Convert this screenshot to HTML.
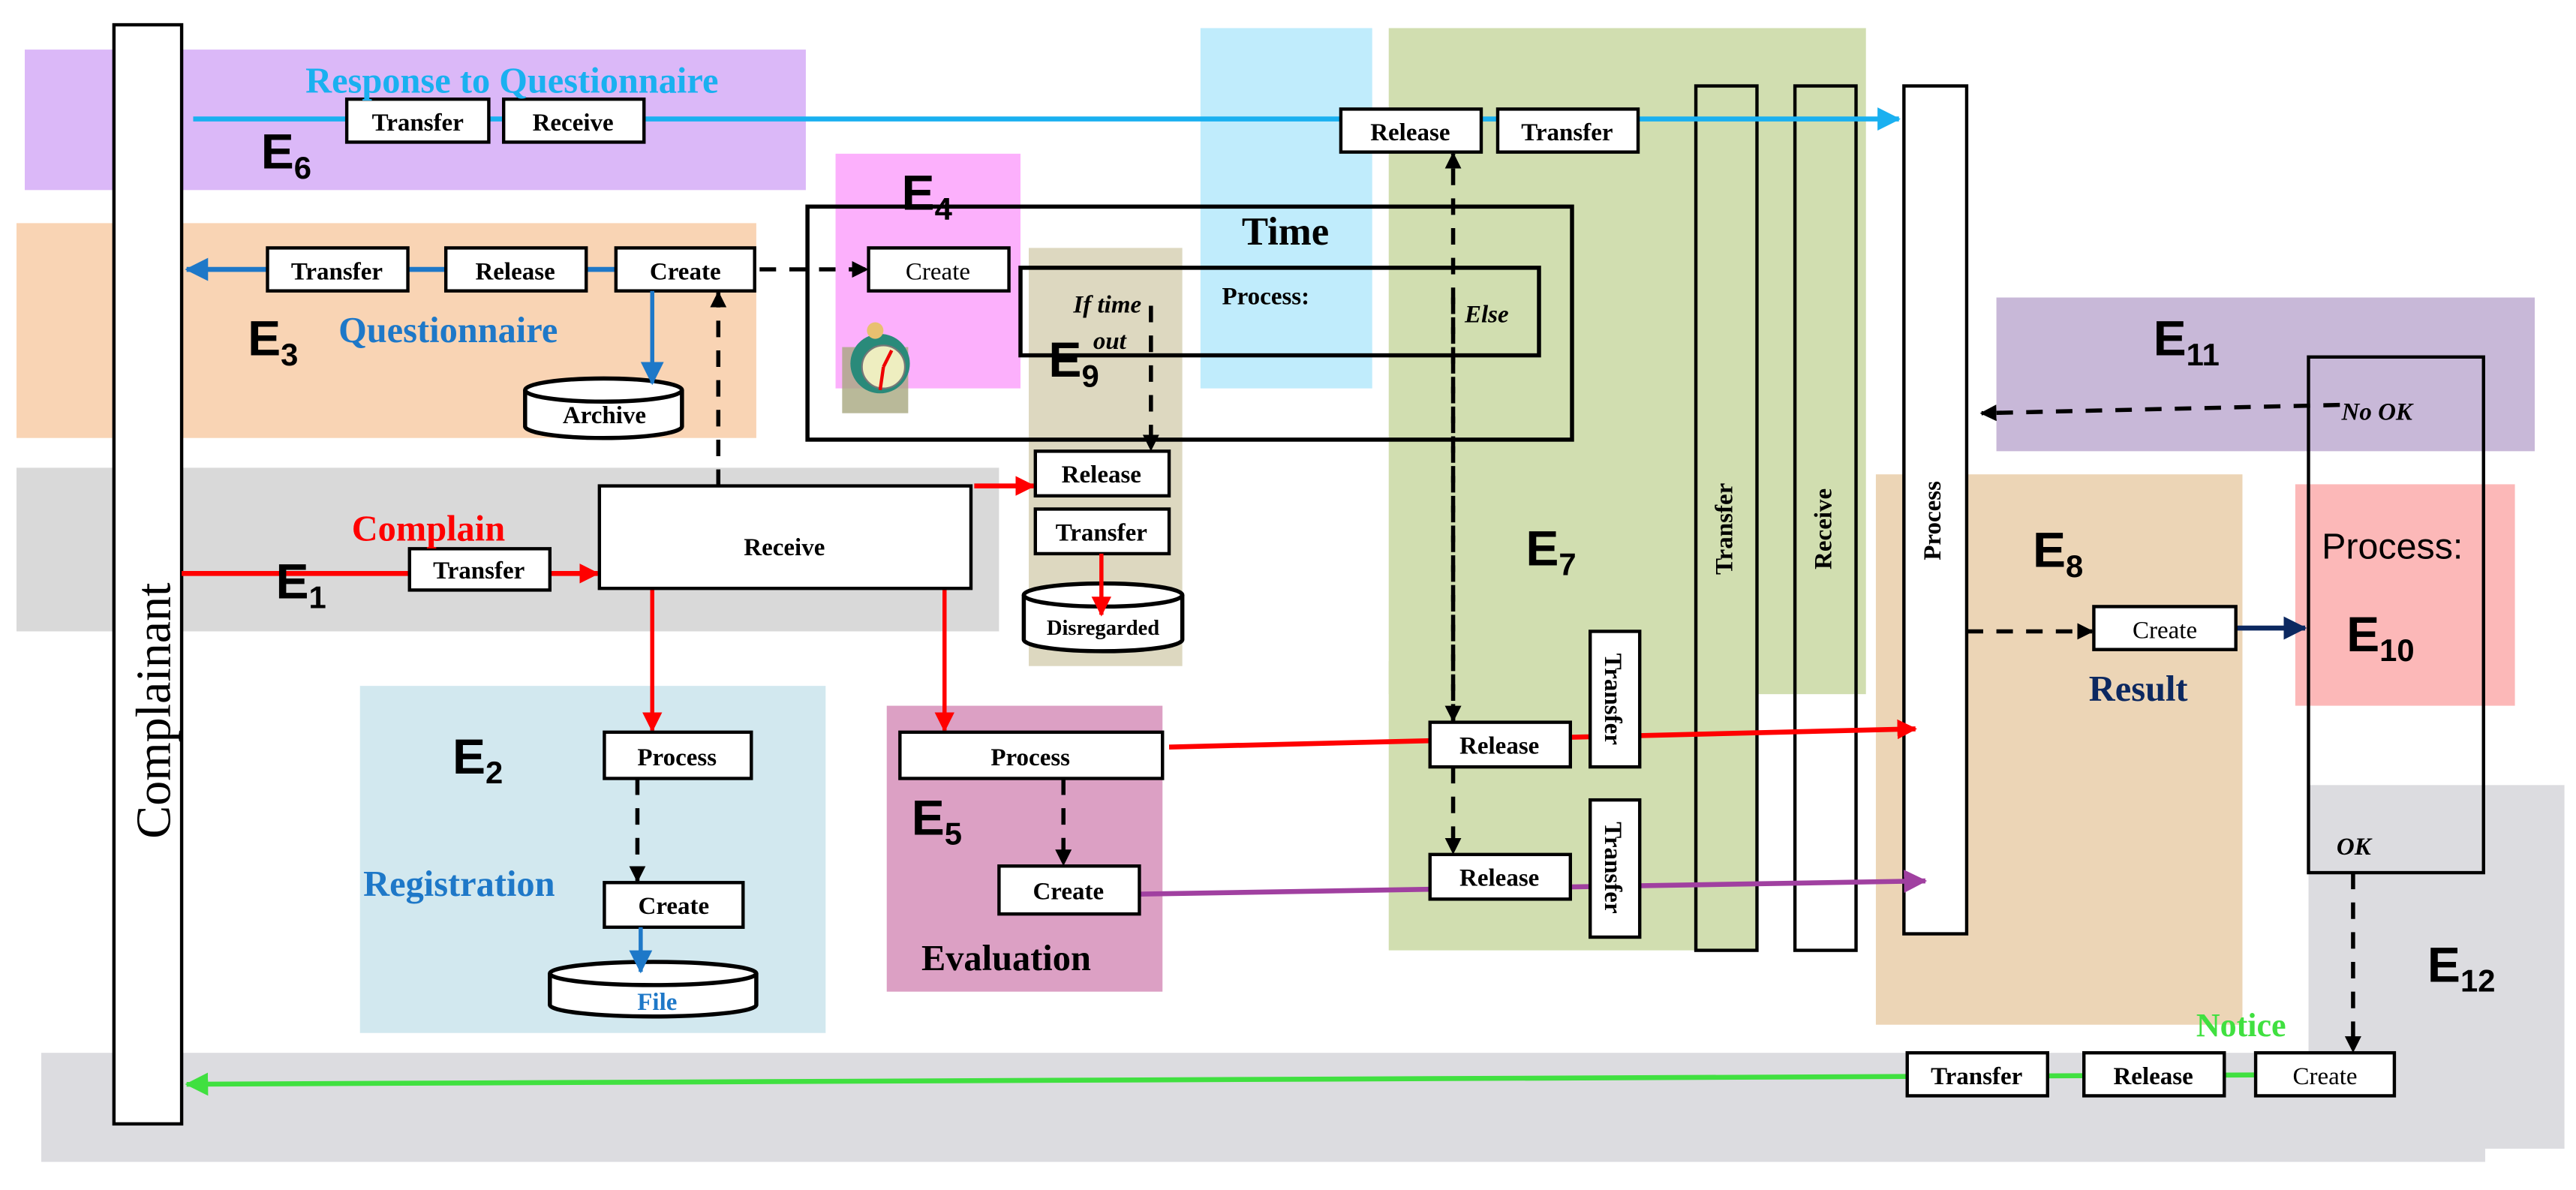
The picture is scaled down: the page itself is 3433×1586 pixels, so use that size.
<!DOCTYPE html>
<html><head><meta charset="utf-8"><style>
html,body{margin:0;padding:0;background:#fff}
svg{display:block}
text{font-family:"Liberation Serif",serif}
.b{fill:#fff;stroke:#000;stroke-width:2}
.t{font-size:15px;font-weight:bold;text-anchor:middle}
.tn{font-size:15px;text-anchor:middle}
.E text{font-family:"Liberation Sans",sans-serif;font-weight:bold;font-size:30px}
.s{font-size:19px}
.d{stroke:#000;stroke-width:2.5;stroke-dasharray:10,8;fill:none}
</style></head><body>
<svg width="3433" height="1586" viewBox="0 0 1560 720" preserveAspectRatio="none" xmlns="http://www.w3.org/2000/svg">
<defs>
<marker id="ak" markerWidth="10" markerHeight="10" refX="9" refY="5" orient="auto" markerUnits="userSpaceOnUse"><path d="M0,0L10,5L0,10z" fill="#000"/></marker>
<marker id="ar" markerWidth="12" markerHeight="12" refX="11" refY="6" orient="auto" markerUnits="userSpaceOnUse"><path d="M0,0L12,6L0,12z" fill="#f00"/></marker>
<marker id="ab" markerWidth="14" markerHeight="14" refX="13" refY="7" orient="auto" markerUnits="userSpaceOnUse"><path d="M0,0L14,7L0,14z" fill="#1e78c8"/></marker>
<marker id="ac" markerWidth="14" markerHeight="14" refX="13" refY="7" orient="auto" markerUnits="userSpaceOnUse"><path d="M0,0L14,7L0,14z" fill="#1ab0f0"/></marker>
<marker id="ap" markerWidth="14" markerHeight="14" refX="13" refY="7" orient="auto" markerUnits="userSpaceOnUse"><path d="M0,0L14,7L0,14z" fill="#a040a0"/></marker>
<marker id="ag" markerWidth="14" markerHeight="14" refX="13" refY="7" orient="auto" markerUnits="userSpaceOnUse"><path d="M0,0L14,7L0,14z" fill="#40e040"/></marker>
<marker id="an" markerWidth="14" markerHeight="14" refX="13" refY="7" orient="auto" markerUnits="userSpaceOnUse"><path d="M0,0L14,7L0,14z" fill="#0c2860"/></marker>
</defs>
<rect x="15" y="30" width="473" height="85" fill="#dbb8f8"/>
<rect x="10" y="135" width="448" height="130" fill="#f9d4b4"/>
<rect x="10" y="283" width="595" height="99" fill="#d9d9d9"/>
<rect x="218" y="415" width="282" height="210" fill="#d2e8ef"/>
<rect x="537" y="427" width="167" height="173" fill="#dca0c4"/>
<rect x="506" y="93" width="112" height="142" fill="#fcb0fc"/>
<rect x="727" y="17" width="104" height="218" fill="#c0ecfc"/>
<rect x="623" y="150" width="93" height="253" fill="#ddd8c0"/>
<rect x="841" y="17" width="289" height="403" fill="#d1deb0"/>
<rect x="841" y="400" width="223" height="175" fill="#d1deb0"/>
<rect x="1209" y="180" width="326" height="93" fill="#c8b8d8"/>
<rect x="1136" y="287" width="222" height="333" fill="#ecd5b6"/>
<rect x="1390" y="293" width="133" height="134" fill="#fcb8b8"/>
<rect x="1398" y="475" width="155" height="220" fill="#dcdce0"/>
<rect x="25" y="637" width="1480" height="66" fill="#dcdce0"/>
<rect x="489" y="125" width="463" height="141" fill="none" stroke="#000" stroke-width="2.5"/>
<rect x="618" y="162" width="314" height="53" fill="none" stroke="#000" stroke-width="2.5"/>
<rect x="510" y="210" width="40" height="40" fill="#a8a880" opacity="0.8"/>
<circle cx="533" cy="220" r="18" fill="#2a8a7a"/>
<circle cx="535" cy="222" r="13" fill="#eeeec0" stroke="#777"/>
<path d="M535,222L540,212M535,222L533,236" stroke="#e00" stroke-width="2"/>
<circle cx="530" cy="200" r="5" fill="#e8c070"/>
<rect x="69" y="15" width="41" height="665" class="b"/>
<text transform="translate(103,430) rotate(-90)" style="font-size:30px;text-anchor:middle">Complainant</text>
<rect x="1027" y="52" width="37" height="523" fill="none" stroke="#000" stroke-width="2"/>
<rect x="1087" y="52" width="37" height="523" fill="none" stroke="#000" stroke-width="2"/>
<rect x="1153" y="52" width="38" height="513" class="b"/>
<rect x="1398" y="216" width="106" height="312" fill="none" stroke="#000" stroke-width="2"/>
<text transform="translate(1049,320) rotate(-90)" class="t">Transfer</text>
<text transform="translate(1109,320) rotate(-90)" class="t">Receive</text>
<text transform="translate(1175,315) rotate(-90)" class="t">Process</text>
<line x1="117" y1="72" x2="1150" y2="72" stroke="#1ab0f0" stroke-width="3" marker-end="url(#ac)"/>
<line x1="457" y1="163" x2="113" y2="163" stroke="#1e78c8" stroke-width="3" marker-end="url(#ab)"/>
<line x1="460" y1="163" x2="525" y2="163" class="d" marker-end="url(#ak)"/>
<line x1="435" y1="294" x2="435" y2="177" class="d" marker-end="url(#ak)"/>
<line x1="110" y1="347" x2="362" y2="347" stroke="#f00" stroke-width="3" marker-end="url(#ar)"/>
<line x1="590" y1="294" x2="626" y2="294" stroke="#f00" stroke-width="3" marker-end="url(#ar)"/>
<line x1="395" y1="356" x2="395" y2="442" stroke="#f00" stroke-width="2.5" marker-end="url(#ar)"/>
<line x1="572" y1="356" x2="572" y2="442" stroke="#f00" stroke-width="2.5" marker-end="url(#ar)"/>
<line x1="708" y1="452" x2="1160" y2="441" stroke="#f00" stroke-width="3" marker-end="url(#ar)"/>
<line x1="690" y1="541" x2="1166" y2="533" stroke="#a040a0" stroke-width="3" marker-end="url(#ap)"/>
<line x1="880" y1="436" x2="880" y2="93" class="d" marker-end="url(#ak)"/>
<line x1="880" y1="180" x2="880" y2="436" class="d" marker-end="url(#ak)"/>
<line x1="880" y1="464" x2="880" y2="516" class="d" marker-end="url(#ak)"/>
<line x1="697" y1="185" x2="697" y2="272" class="d" marker-end="url(#ak)"/>
<line x1="386" y1="471" x2="386" y2="533" class="d" marker-end="url(#ak)"/>
<line x1="644" y1="471" x2="644" y2="523" class="d" marker-end="url(#ak)"/>
<line x1="1191" y1="382" x2="1267" y2="382" class="d" marker-end="url(#ak)"/>
<line x1="1354" y1="380" x2="1396" y2="380" stroke="#0c2860" stroke-width="3" marker-end="url(#an)"/>
<line x1="1417" y1="245" x2="1200" y2="250" class="d" marker-end="url(#ak)"/>
<line x1="1425" y1="528" x2="1425" y2="636" class="d" marker-end="url(#ak)"/>
<line x1="1450" y1="650" x2="113" y2="656" stroke="#40e040" stroke-width="3" marker-end="url(#ag)"/>
<g>
<rect x="210" y="60" width="86" height="26" class="b"/><text x="253" y="79" class="t">Transfer</text>
<rect x="305" y="60" width="85" height="26" class="b"/><text x="347" y="79" class="t">Receive</text>
<rect x="812" y="66" width="85" height="26" class="b"/><text x="854" y="85" class="t">Release</text>
<rect x="907" y="66" width="85" height="26" class="b"/><text x="949" y="85" class="t">Transfer</text>
<rect x="162" y="150" width="85" height="26" class="b"/><text x="204" y="169" class="t">Transfer</text>
<rect x="270" y="150" width="85" height="26" class="b"/><text x="312" y="169" class="t">Release</text>
<rect x="373" y="150" width="84" height="26" class="b"/><text x="415" y="169" class="t">Create</text>
<rect x="526" y="150" width="85" height="26" class="b"/><text x="568" y="169" class="tn">Create</text>
<rect x="363" y="294" width="225" height="62" class="b"/><text x="475" y="336" class="t">Receive</text>
<rect x="248" y="332" width="85" height="25" class="b"/><text x="290" y="350" class="t">Transfer</text>
<rect x="627" y="273" width="81" height="27" class="b"/><text x="667" y="292" class="t">Release</text>
<rect x="627" y="308" width="81" height="27" class="b"/><text x="667" y="327" class="t">Transfer</text>
<rect x="366" y="443" width="89" height="28" class="b"/><text x="410" y="463" class="t">Process</text>
<rect x="366" y="534" width="84" height="27" class="b"/><text x="408" y="553" class="t">Create</text>
<rect x="545" y="443" width="159" height="28" class="b"/><text x="624" y="463" class="t">Process</text>
<rect x="605" y="524" width="85" height="29" class="b"/><text x="647" y="544" class="t">Create</text>
<rect x="866" y="437" width="85" height="27" class="b"/><text x="908" y="456" class="t">Release</text>
<rect x="963" y="382" width="30" height="82" class="b"/><text transform="translate(972,423) rotate(90)" class="t">Transfer</text>
<rect x="866" y="517" width="85" height="27" class="b"/><text x="908" y="536" class="t">Release</text>
<rect x="963" y="484" width="30" height="83" class="b"/><text transform="translate(972,525) rotate(90)" class="t">Transfer</text>
<rect x="1268" y="367" width="86" height="26" class="b"/><text x="1311" y="386" class="tn">Create</text>
<rect x="1155" y="637" width="85" height="26" class="b"/><text x="1197" y="656" class="t">Transfer</text>
<rect x="1262" y="637" width="85" height="26" class="b"/><text x="1304" y="656" class="t">Release</text>
<rect x="1366" y="637" width="84" height="26" class="b"/><text x="1408" y="656" class="tn">Create</text>
</g>
<g fill="#fff" stroke="#000" stroke-width="2.5">
<path d="M318,236V258A47.5,7 0 0 0 413,258V236"/><ellipse cx="365.5" cy="236" rx="47.5" ry="7"/>
<path d="M620,360V387A48,7 0 0 0 716,387V360"/><ellipse cx="668" cy="360" rx="48" ry="7"/>
<path d="M333,589V608A62.5,7 0 0 0 458,608V589"/><ellipse cx="395.5" cy="589" rx="62.5" ry="7"/>
</g>
<line x1="395" y1="176" x2="395" y2="232" stroke="#1e78c8" stroke-width="2.5" marker-end="url(#ab)"/>
<line x1="667" y1="335" x2="667" y2="372" stroke="#f00" stroke-width="2.5" marker-end="url(#ar)"/>
<line x1="388" y1="561" x2="388" y2="588" stroke="#1e78c8" stroke-width="2.5" marker-end="url(#ab)"/>
<text x="366" y="256" class="t">Archive</text>
<text x="668" y="384" class="t" style="font-size:13px">Disregarded</text>
<text x="398" y="611" class="t" style="fill:#1e78c8">File</text>
<text x="185" y="56" style="font-size:22px;font-weight:bold;fill:#1ab0f0">Response to Questionnaire</text>
<text x="205" y="207" style="font-size:22px;font-weight:bold;fill:#1e78c8">Questionnaire</text>
<text x="213" y="327" style="font-size:22px;font-weight:bold;fill:#f00">Complain</text>
<text x="220" y="542" style="font-size:22px;font-weight:bold;fill:#1e78c8">Registration</text>
<text x="558" y="587" style="font-size:22px;font-weight:bold">Evaluation</text>
<text x="1265" y="424" style="font-size:22px;font-weight:bold;fill:#0c2860">Result</text>
<text x="1330" y="627" style="font-size:20px;font-weight:bold;fill:#40e040">Notice</text>
<text x="752" y="148" style="font-size:24px;font-weight:bold">Time</text>
<text x="740" y="184" style="font-size:15px;font-weight:bold">Process:</text>
<text x="650" y="189" style="font-size:15px;font-weight:bold;font-style:italic">If time</text>
<text x="662" y="211" style="font-size:15px;font-weight:bold;font-style:italic">out</text>
<text x="887" y="195" style="font-size:15px;font-weight:bold;font-style:italic">Else</text>
<text x="1418" y="254" style="font-size:15px;font-weight:bold;font-style:italic">No OK</text>
<text x="1415" y="517" style="font-size:15px;font-weight:bold;font-style:italic">OK</text>
<text x="1406" y="338" style="font-family:'Liberation Sans',sans-serif;font-size:22px">Process:</text>
<g class="E">
<text x="158" y="102">E<tspan class="s" dy="6">6</tspan></text>
<text x="150" y="215">E<tspan class="s" dy="6">3</tspan></text>
<text x="546" y="127">E<tspan class="s" dy="6">4</tspan></text>
<text x="635" y="228">E<tspan class="s" dy="6">9</tspan></text>
<text x="167" y="362">E<tspan class="s" dy="6">1</tspan></text>
<text x="274" y="468">E<tspan class="s" dy="6">2</tspan></text>
<text x="552" y="505">E<tspan class="s" dy="6">5</tspan></text>
<text x="924" y="342">E<tspan class="s" dy="6">7</tspan></text>
<text x="1231" y="343">E<tspan class="s" dy="6">8</tspan></text>
<text x="1421" y="394">E<tspan class="s" dy="6">10</tspan></text>
<text x="1304" y="215">E<tspan class="s" dy="6">11</tspan></text>
<text x="1470" y="594">E<tspan class="s" dy="6">12</tspan></text>
</g>
</svg>
</body></html>
